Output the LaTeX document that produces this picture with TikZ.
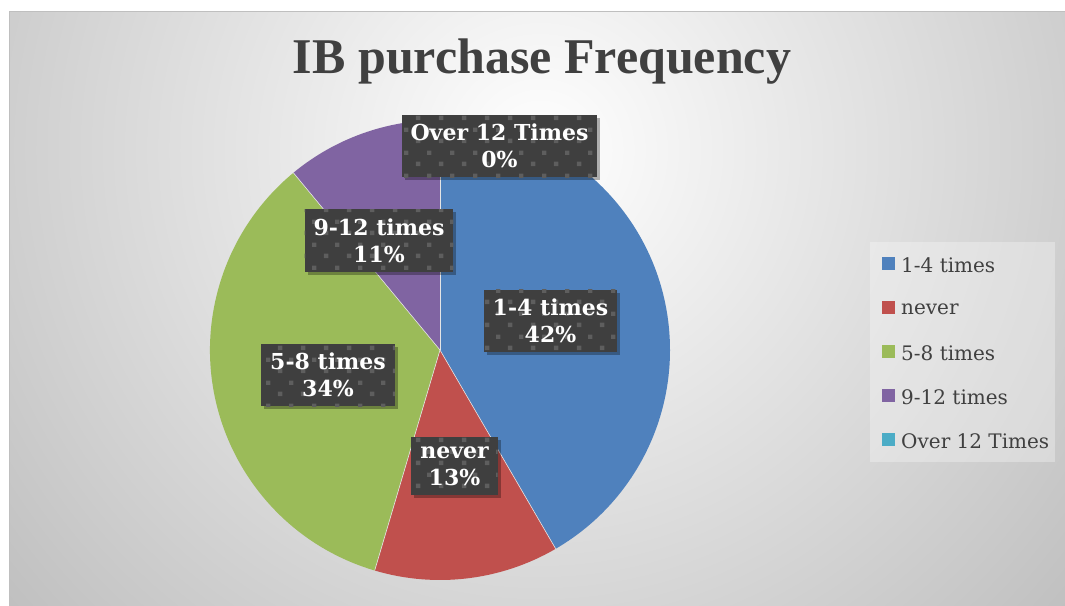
\documentclass[tikz,border=0pt]{standalone}
\usepackage{fontspec}
\setmainfont{DejaVu Serif}
\newfontfamily\titlefont{Liberation Serif}
\usetikzlibrary{patterns,shadows}
\definecolor{cblue}{HTML}{4F81BD}
\definecolor{cred}{HTML}{C0504D}
\definecolor{cgreen}{HTML}{9BBB59}
\definecolor{cpurple}{HTML}{8064A2}
\definecolor{ccyan}{HTML}{4BACC6}
\definecolor{txtgray}{HTML}{404040}
\definecolor{lblbg}{HTML}{3F3F3F}
\definecolor{lbldot}{HTML}{5E5E5E}
\definecolor{framegray}{HTML}{BFBFBF}
\definecolor{bgouter}{HTML}{BEBEBE}
\pgfdeclarepatternformonly{lbdots}{\pgfpointorigin}{\pgfpoint{23pt}{23pt}}{\pgfpoint{23pt}{23pt}}{%
  \pgfpathrectangle{\pgfpoint{2pt}{2pt}}{\pgfpoint{4.5pt}{4.5pt}}%
  \pgfpathrectangle{\pgfpoint{13.5pt}{13.5pt}}{\pgfpoint{4.5pt}{4.5pt}}%
  \pgfusepath{fill}}
\tikzset{
  slice/.style={draw=white!80!gray, line width=0.6pt, line join=round},
  datalabel/.style={fill=lblbg, text=white, font=\fontsize{22}{27}\selectfont\bfseries,
    align=center, inner xsep=9pt, inner ysep=9pt,
    drop shadow={shadow xshift=3pt, shadow yshift=-3pt, opacity=0.3, fill=black},
    postaction={pattern=lbdots, pattern color=lbldot}},
  legsq/.style={fill=#1, minimum size=13pt, inner sep=0pt},
  legtxt/.style={anchor=west, text=txtgray, font=\fontsize{20}{24}\selectfont, inner sep=0pt}
}
\begin{document}
\begin{tikzpicture}[x=1pt,y=-1pt]
\useasboundingbox (0,0) rectangle (1065,605);
\fill[white] (0,0) rectangle (1065,605);
% chart area with radial gradient
\begin{scope}
  \clip (9,11) rectangle (1065,605);
  \shade[inner color=white, outer color=bgouter] (540,150) circle (720);
\end{scope}
\draw[framegray, line width=1pt] (9,605) -- (9,11) -- (1065,11);
% title
\node[text=txtgray, font=\titlefont\fontsize{50}{56}\selectfont\bfseries] (title) at (542,62) {IB purchase Frequency};
% pie (y axis points down, so angles are mirrored)
\coordinate (c) at (440,350);
\fill[cblue]   (c) -- ++(-90:230) arc[start angle=-90, end angle=59.8, radius=230] -- cycle;
\fill[cred]    (c) -- ++(59.8:230) arc[start angle=59.8, end angle=106.5, radius=230] -- cycle;
\fill[cgreen]  (c) -- ++(106.5:230) arc[start angle=106.5, end angle=230.4, radius=230] -- cycle;
\fill[cpurple] (c) -- ++(230.4:230) arc[start angle=230.4, end angle=270, radius=230] -- cycle;
\draw[slice] (c) -- ++(-90:230);
\draw[slice] (c) -- ++(59.8:230);
\draw[slice] (c) -- ++(106.5:230);
\draw[slice] (c) -- ++(230.4:230);
% data labels
\node[datalabel] (l5) at (499.5,146) {Over 12 Times\\0\%};
\node[datalabel] (l4) at (379,240.5) {9-12 times\\11\%};
\node[datalabel] (l1) at (550.5,321) {1-4 times\\42\%};
\node[datalabel] (l3) at (328,375) {5-8 times\\34\%};
\node[datalabel] (l2) at (454.5,466) {never\\13\%};
% legend
\fill[white, fill opacity=0.3] (870,242) rectangle (1055,462);
\node[legsq=cblue]   (s1) at (888.5,263.5) {};
\node[legsq=cred]    (s2) at (888.5,307.5) {};
\node[legsq=cgreen]  (s3) at (888.5,351.5) {};
\node[legsq=cpurple] (s4) at (888.5,395.5) {};
\node[legsq=ccyan]   (s5) at (888.5,439.5) {};
\node[legtxt] (t1) at (901,265) {1-4 times};
\node[legtxt] (t2) at (901,309) {never};
\node[legtxt] (t3) at (901,353) {5-8 times};
\node[legtxt] (t4) at (901,397) {9-12 times};
\node[legtxt] (t5) at (901,441) {Over 12 Times};
\end{tikzpicture}
\end{document}
